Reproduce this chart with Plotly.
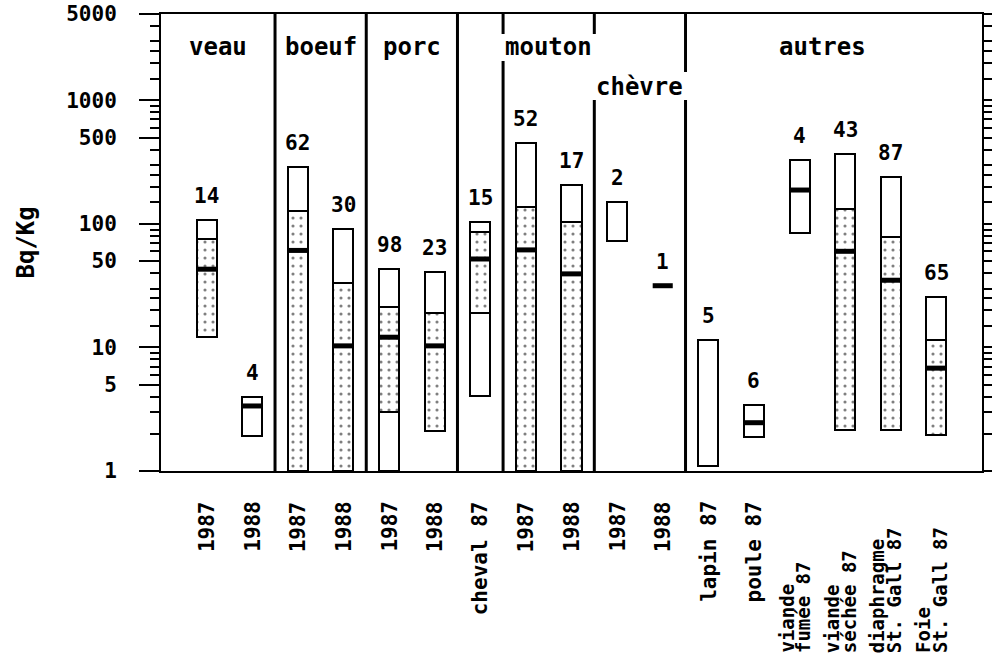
import numpy as np
import plotly.graph_objects as go

# Samples (x axis), sample counts and activity statistics in Bq/Kg
labels = ["1987", "1988", "1987", "1988", "1987", "1988", "cheval 87",
          "1987", "1988", "1987", "1988", "lapin 87", "poule 87",
          "viande<br>fumée 87", "viande<br>séchée 87",
          "diaphragme<br>St. Gall 87", "Foie<br>St. Gall 87"]
counts = [14, 4, 62, 30, 98, 23, 15, 52, 17, 2, 1, 5, 6, 4, 43, 87, 65]
v_max = [108, 4.0, 290, 91, 43, 41, 104, 455, 206, 150, None, 11.4, 3.4,
         330, 370, 240, 25.5]
v_min = [12.2, 1.92, 1, 1, 1, 2.1, 4.05, 1, 1, 73, None, 1.1, 1.87,
         85, 2.15, 2.15, 1.96]
q_low = [12.2, None, 1, 1, 3.0, 2.1, 19, 1, 1, None, None, None, None,
         None, 2.15, 2.15, 1.96]
q_high = [75, None, 128, 33, 21.4, 19.1, 85.6, 138, 104, None, None, None,
          None, None, 132, 79, 11.4]
median = [43, 3.36, 61, 10.3, 12.1, 10.3, 52, 61.6, 39.4, None, 31.6, None,
          2.46, 188, 60, 35, 6.8]

groups = ["veau", "boeuf", "porc", "mouton", "chèvre", "autres"]
group_x = [0.25, 2.5, 4.5, 7.5, 9.5, 13.5]
group_row = [0, 0, 0, 0, 1, 0]

y_ticks = [1, 5, 10, 50, 100, 500, 1000, 5000]
y_minor = [2, 3, 4, 6, 7, 8, 9, 15, 20, 25, 30, 40, 60, 70, 80, 90,
           150, 200, 250, 300, 400, 600, 700, 800, 900,
           1500, 2000, 2500, 3000, 4000]

MONO = "DejaVu Sans Mono"
BOX_W = 0.44
PLOT_H = 457  # height of the plotting area in px

xs = list(range(len(labels)))
fig = go.Figure()

# min-max range boxes
rng = [i for i in xs if v_max[i] is not None]
fig.add_trace(go.Bar(
    x=rng, base=[v_min[i] for i in rng],
    y=[v_max[i] - v_min[i] for i in rng],
    width=BOX_W, marker=dict(color="white", line=dict(color="black", width=2)),
    hoverinfo="skip", showlegend=False))

# stippled central range
st = [i for i in xs if q_high[i] is not None]
fig.add_trace(go.Bar(
    x=st, base=[q_low[i] for i in st],
    y=[q_high[i] - q_low[i] for i in st],
    width=BOX_W,
    marker=dict(color="white", line=dict(color="black", width=2),
                pattern=dict(shape=".", fgcolor="black", bgcolor="white",
                             size=8, solidity=0.12)),
    hoverinfo="skip", showlegend=False))

# median bars
mx, my = [], []
for i in xs:
    if median[i] is not None:
        mx += [i - BOX_W / 2, i + BOX_W / 2, None]
        my += [median[i], median[i], None]
fig.add_trace(go.Scatter(x=mx, y=my, mode="lines",
                         line=dict(color="black", width=5),
                         hoverinfo="skip", showlegend=False))

annotations = []
# sample counts above each box
for i in xs:
    top = v_max[i] if v_max[i] is not None else median[i]
    annotations.append(dict(x=i, y=np.log10(top), xref="x", yref="y",
                            text=str(counts[i]), showarrow=False,
                            yanchor="middle", yshift=24,
                            font=dict(family=MONO, size=21, color="black",
                                      weight="bold")))

# rotated sample names under the axis
for i in xs:
    parts = labels[i].split("<br>")
    if len(parts) == 1:
        annotations.append(dict(x=i, y=0, xref="x", yref="paper",
                                text=parts[0], textangle=-90,
                                showarrow=False, xanchor="center",
                                yanchor="top", yshift=-28,
                                font=dict(family=MONO, size=21, color="black",
                                          weight="bold")))
    else:
        n = len(parts)
        for k, p in enumerate(parts):
            annotations.append(dict(x=i, y=0, xref="x", yref="paper",
                                    text=p, textangle=-90, showarrow=False,
                                    xanchor="center", yanchor="bottom",
                                    xshift=(k - (n - 1) / 2) * 17 - 5,
                                    yshift=-184,
                                    font=dict(family=MONO, size=19,
                                              color="black", weight="bold")))

# group titles
row_y = [1 - 33 / PLOT_H, 1 - 73 / PLOT_H]
for g, gx, r in zip(groups, group_x, group_row):
    annotations.append(dict(x=gx, y=row_y[r], xref="x", yref="paper",
                            text=g, showarrow=False, xanchor="center",
                            yanchor="middle",
                            font=dict(family=MONO, size=24, color="black",
                                      weight="bold")))

# y axis title
annotations.append(dict(x=0, y=0.5, xref="paper", yref="paper",
                        text="Bq/Kg", textangle=-90, showarrow=False,
                        xanchor="center", yanchor="middle", xshift=-136,
                        font=dict(family=MONO, size=24, color="black",
                                  weight="bold")))

# group separators (with openings where the titles sit), px from plot top
separators = {1.5: [(0, 457)], 3.5: [(0, 457)], 5.5: [(0, 457)],
              6.5: [(0, 20), (47, 457)],
              8.5: [(0, 20), (86, 457)],
              10.5: [(0, 58), (86, 457)]}
shapes = []
for sx, segs in separators.items():
    for a, b in segs:
        shapes.append(dict(type="line", xref="x", yref="paper",
                           x0=sx, x1=sx, y0=1 - a / PLOT_H, y1=1 - b / PLOT_H,
                           line=dict(color="black", width=3)))

fig.update_layout(
    width=992, height=655,
    margin=dict(l=161, r=10, t=14, b=184),
    paper_bgcolor="white", plot_bgcolor="white",
    barmode="overlay", bargap=0,
    annotations=annotations, shapes=shapes,
    font=dict(family=MONO, color="black"),
)
fig.update_xaxes(range=[-1, 17], showticklabels=False, ticks="",
                 automargin=False,
                 showgrid=False, zeroline=False, showline=True,
                 linecolor="black", linewidth=2, mirror=True)
fig.update_yaxes(type="log", range=[0, np.log10(5000)],
                 automargin=False,
                 tickmode="array", tickvals=y_ticks,
                 ticktext=[str(v) for v in y_ticks],
                 ticks="outside", ticklen=20, tickwidth=2, tickcolor="black",
                 ticklabelstandoff=18,
                 tickfont=dict(family=MONO, size=21, color="black",
                               weight="bold"),
                 minor=dict(tickmode="array", tickvals=y_minor,
                            ticks="outside", ticklen=9, tickwidth=2,
                            tickcolor="black", showgrid=False),
                 showgrid=False, zeroline=False, showline=True,
                 linecolor="black", linewidth=2, mirror="ticks")

fig.write_html("out.html")
